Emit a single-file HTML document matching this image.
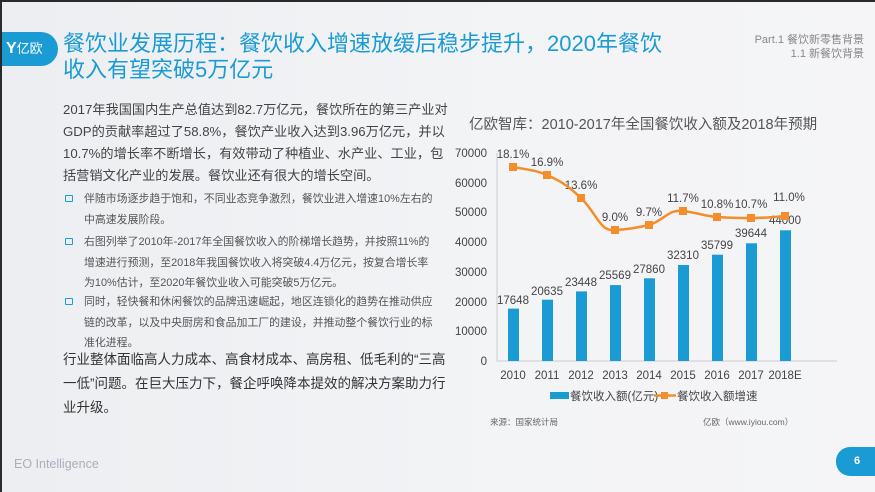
<!DOCTYPE html>
<html><head><meta charset="utf-8"><style>
*{margin:0;padding:0;box-sizing:border-box}
body{width:875px;height:492px;overflow:hidden;background:#2a2a2a;font-family:"Liberation Sans","Noto Sans CJK SC",sans-serif}
#pg{position:absolute;left:2px;top:2px;width:873px;height:490px;background:linear-gradient(90deg,#eceef1,#f3f4f6 60%,#f5f5f7);overflow:hidden}
.a{position:absolute;white-space:nowrap}
.logo{left:-2px;top:30px;width:58px;height:34px;background:#1b9bd4;border-radius:0 17px 17px 0;color:#fff;font-size:13px;line-height:34px;padding-left:6px}
.title{left:61px;top:29px;color:#1b9bd4;font-size:22px;line-height:26px}
.p{left:61px;color:#444;font-size:13.2px;line-height:22px}
.b{left:82px;color:#555;font-size:10.9px;line-height:20.5px}
.sq{position:absolute;left:-19px;top:6px;width:8px;height:7px;border:1.5px solid #1b9bd4;border-radius:1px}
</style></head><body><div id="pg">
<div class="a logo"><b style="font-size:16px">Y</b>亿欧</div>
<div class="a title">餐饮业发展历程：餐饮收入增速放缓后稳步提升，2020年餐饮<br>收入有望突破5万亿元</div>
<div class="a" style="right:11px;top:31px;text-align:right;color:#888;font-size:11px;line-height:14px">Part.1 餐饮新零售背景<br>1.1 新餐饮背景</div>
<div class="a p" style="top:97px">2017年我国国内生产总值达到82.7万亿元，餐饮所在的第三产业对<br>GDP的贡献率超过了58.8%，餐饮产业收入达到3.96万亿元，并以<br>10.7%的增长率不断增长，有效带动了种植业、水产业、工业，包<br>括营销文化产业的发展。餐饮业还有很大的增长空间。</div>
<div class="a b" style="top:187px"><span class="sq"></span>伴随市场逐步趋于饱和，不同业态竞争激烈，餐饮业进入增速10%左右的<br>中高速发展阶段。</div>
<div class="a b" style="top:230px"><span class="sq"></span>右图列举了2010年-2017年全国餐饮收入的阶梯增长趋势，并按照11%的<br>增速进行预测，至2018年我国餐饮收入将突破4.4万亿元，按复合增长率<br>为10%估计，至2020年餐饮业收入可能突破5万亿元。</div>
<div class="a b" style="top:290px"><span class="sq"></span>同时，轻快餐和休闲餐饮的品牌迅速崛起，地区连锁化的趋势在推动供应<br>链的改革，以及中央厨房和食品加工厂的建设，并推动整个餐饮行业的标<br>准化进程。</div>
<div class="a p" style="top:346px;line-height:24px;font-size:13.5px;color:#333">行业整体面临高人力成本、高食材成本、高房租、低毛利的“三高<br>一低”问题。在巨大压力下，餐企呼唤降本提效的解决方案助力行<br>业升级。</div>
<div class="a" style="left:12px;top:455px;color:#a9b0bb;font-size:12.5px">EO Intelligence</div>
<div class="a" style="left:834px;top:445px;width:42px;height:29px;background:#1b9bd4;border-radius:14px 0 0 14px;color:#fff;font-size:11px;font-weight:bold;line-height:29px;padding-left:18px">6</div>
</div>
<svg class="a" style="left:0;top:0" width="875" height="492" font-family="Liberation Sans,Noto Sans CJK SC,sans-serif">
<text x="469" y="129" font-size="14.5" fill="#555">亿欧智库：2010-2017年全国餐饮收入额及2018年预期</text>
<g font-size="11.5" fill="#444" text-anchor="end">
<text x="487" y="157">70000</text><text x="487" y="187">60000</text><text x="487" y="216">50000</text><text x="487" y="246">40000</text><text x="487" y="276">30000</text><text x="487" y="306">20000</text><text x="487" y="335">10000</text><text x="487" y="365">0</text></g>
<line x1="497" y1="153" x2="497" y2="361" stroke="#ccc"/><line x1="497" y1="361" x2="837" y2="361" stroke="#ccc"/>
<g fill="#1b9bd4">
<rect x="508" y="308.6" width="11" height="52.4"/><rect x="542" y="299.7" width="11" height="61.3"/><rect x="576" y="291.4" width="11" height="69.6"/><rect x="610" y="285.1" width="11" height="75.9"/><rect x="644" y="278.3" width="11" height="82.7"/><rect x="678" y="265" width="11" height="96"/><rect x="712" y="254.7" width="11" height="106.3"/><rect x="746" y="243.3" width="11" height="117.7"/><rect x="780" y="230.3" width="11" height="130.7"/></g>
<g font-size="11.5" fill="#444" text-anchor="middle">
<text x="513" y="304">17648</text><text x="547" y="295">20635</text><text x="581" y="286">23448</text><text x="615" y="279">25569</text><text x="649" y="273">27860</text><text x="683" y="259">32310</text><text x="717" y="249">35799</text><text x="751" y="237">39644</text><text x="785" y="224">44000</text>
<text x="513" y="158">18.1%</text><text x="547" y="166">16.9%</text><text x="581" y="189">13.6%</text><text x="615" y="221">9.0%</text><text x="649" y="216">9.7%</text><text x="683" y="202">11.7%</text><text x="717" y="208">10.8%</text><text x="751" y="208">10.7%</text><text x="789" y="201">11.0%</text>
<text x="513" y="379">2010</text><text x="547" y="379">2011</text><text x="581" y="379">2012</text><text x="615" y="379">2013</text><text x="649" y="379">2014</text><text x="683" y="379">2015</text><text x="717" y="379">2016</text><text x="751" y="379">2017</text><text x="785" y="379">2018E</text></g>
<path d="M513,167 C530,170 535,170 547,175 C565,183 570,188 581,198 C598,215 600,232 615,230 C630,229 635,228 649,225 C665,220 668,209 683,211 C700,213 703,216 717,217 C730,218 738,218 751,218 C765,218 775,217 785,216" fill="none" stroke="#f28e2b" stroke-width="2.5"/>
<g fill="#f28e2b"><rect x="509" y="163" width="8" height="8"/><rect x="543" y="171" width="8" height="8"/><rect x="577" y="194" width="8" height="8"/><rect x="611" y="226" width="8" height="8"/><rect x="645" y="221" width="8" height="8"/><rect x="679" y="207" width="8" height="8"/><rect x="713" y="213" width="8" height="8"/><rect x="747" y="214" width="8" height="8"/><rect x="781" y="212" width="8" height="8"/></g>
<rect x="550" y="392" width="19" height="7" fill="#1b9bd4"/><text x="570" y="400" font-size="11.5" fill="#444">餐饮收入额(亿元)</text>
<line x1="654" y1="395.5" x2="676" y2="395.5" stroke="#f28e2b" stroke-width="2.5"/><rect x="661" y="392" width="7" height="7" fill="#f28e2b"/><text x="677" y="400" font-size="11.5" fill="#444">餐饮收入额增速</text>
<text x="490" y="425" font-size="8.5" fill="#666">来源：国家统计局</text>
<text x="703" y="425" font-size="8.5" fill="#666">亿欧（www.iyiou.com）</text>
</svg>
</body></html>
